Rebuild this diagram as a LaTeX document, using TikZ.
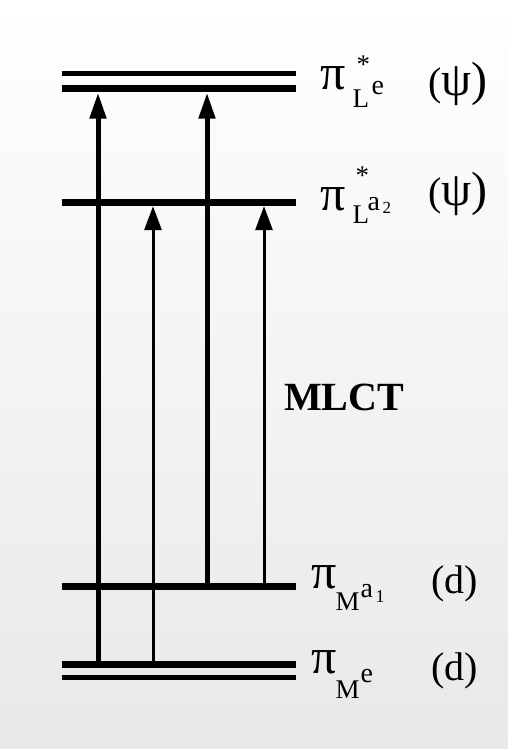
\documentclass[tikz,border=0pt]{standalone}
\usepackage{fontspec}
\setmainfont{Liberation Serif}
\usetikzlibrary{arrows.meta}
\newcommand{\pc}[4]{\rlap{\hspace*{#1pt}\raisebox{#2pt}{\fontsize{#3}{#3}\selectfont #4}}}
\begin{document}
\begin{tikzpicture}[x=1pt,y=-1pt,
  level/.style={fill=black, draw=none, inner sep=0pt, minimum width=234pt},
  thickarr/.style={line width=5pt, -{Triangle[length=26pt,width=16pt]}},
  thinarr/.style={line width=3pt, -{Triangle[length=24pt,width=17pt]}},
  lbl/.style={anchor=base west, inner sep=0pt},
  paren/.style={lbl, font=\fontsize{40}{44}\selectfont},
]
\shade[top color=white, bottom color=black!9] (0,0) rectangle (508,749);
\useasboundingbox (0,0) rectangle (508,749);

% levels
\node[level, minimum height=5pt] (Le1) at (179,74) {};
\node[level, minimum height=7pt] (Le2) at (179,89) {};
\node[level, minimum height=7pt] (La2) at (179,202.5) {};
\node[level, minimum height=7pt] (Ma1) at (179,586) {};
\node[level, minimum height=7pt] (Me1) at (179,664.5) {};
\node[level, minimum height=5pt] (Me2) at (179,677.5) {};

% arrow columns
\coordinate (c1) at (98,0);
\coordinate (c2) at (153,0);
\coordinate (c3) at (207,0);
\coordinate (c4) at (264,0);

\draw[thickarr] (Me1.center -| c1) -- (Le2.south -| c1);
\draw[thinarr]  (Me1.center -| c2) -- (La2.south -| c2);
\draw[thickarr] (Ma1.center -| c3) -- (Le2.south -| c3);
\draw[thinarr]  (Ma1.center -| c4) -- (La2.south -| c4);

% labels
\node[lbl] (tLe) at (320,90) {\pc{0}{0}{50}{π}\pc{32}{-18}{27}{L}\pc{36}{16}{27}{*}\pc{51}{-5}{28}{e}};
\node[paren] (pLe) at (428,96) {(\fontsize{48}{48}\selectfont ψ)};

\node[lbl] (tLa) at (320,210) {\pc{0}{0}{50}{π}\pc{32}{-13}{27}{L}\pc{35}{26}{27}{*}\pc{47}{0}{28}{a}\pc{62}{-3}{17}{2}};
\node[paren] (pLa) at (428,205) {(\fontsize{48}{48}\selectfont ψ)};

\node[lbl] (tMa) at (311,588) {\pc{0}{0}{50}{π}\pc{24}{-22}{27}{M}\pc{49}{-9}{28}{a}\pc{64}{-14}{18}{1}};
\node[paren] (pMa) at (431,593) {(d)};

\node[lbl] (tMe) at (311,673) {\pc{0}{0}{50}{π}\pc{24}{-25}{27}{M}\pc{49}{-9}{28}{e}};
\node[paren] (pMe) at (431,680) {(d)};

\node[lbl, font=\bfseries\fontsize{40}{44}\selectfont] (mlct) at (284,410) {MLCT};
\end{tikzpicture}
\end{document}
